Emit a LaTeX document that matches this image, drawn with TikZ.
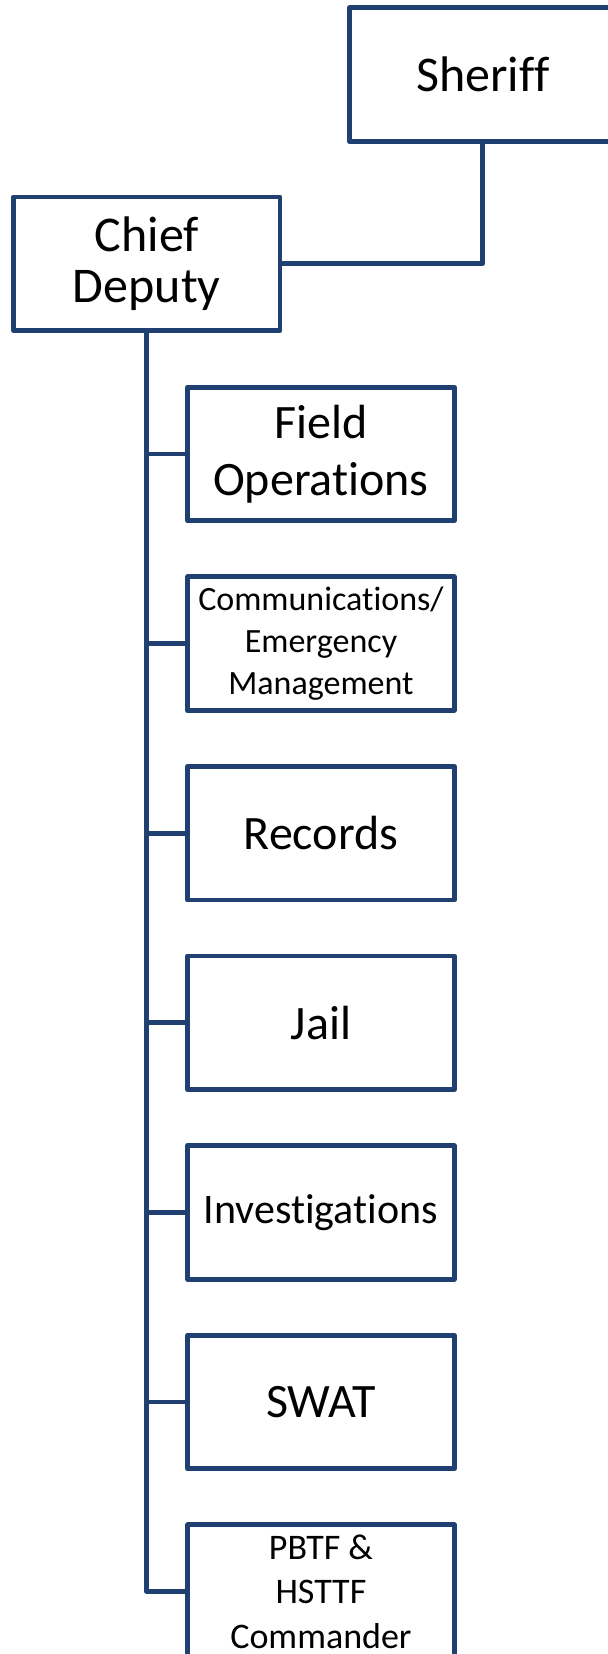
\documentclass[tikz,border=0pt]{standalone}
\usepackage{fontspec}
\setmainfont[Ligatures=NoCommon]{Carlito}
\definecolor{orgblue}{RGB}{31,64,112}
\newcommand{\fsz}[2]{\fontsize{#1}{#2}\selectfont}
\begin{document}
\begin{tikzpicture}[x=0.5pt,y=-0.5pt,
  unit/.style={draw=orgblue, line width=2.4pt, line join=round,
    minimum width=133.25pt, minimum height=66.75pt, inner sep=0pt,
    align=center, fill=white, text=black},
  link/.style={draw=orgblue, line width=2.4pt, line join=round}]
\useasboundingbox (0,0) rectangle (608,1654);

% top of the chain of command
\node[unit, font=\fsz{25pt}{30pt}] (sheriff) at (482.75,74.6) {Sheriff};
\node[unit, font=\fsz{25pt}{25.5pt}] (chief) at (146.75,263.75) {\rule{0pt}{5pt}Chief\\Deputy};

% divisions reporting to the chief deputy
\node[unit, font=\fsz{24pt}{28.8pt}] (field) at (320.95,454) {Field\\Operations};
\node[unit, font=\fsz{17pt}{21.1pt}] (comm) at (320.95,643.6) {\rule{0pt}{4pt}Communications/\\Emergency\\Management};
\node[unit, font=\fsz{24pt}{28.8pt}] (records) at (320.95,833.2) {Records};
\node[unit, font=\fsz{24pt}{28.8pt}] (jail) at (320.95,1022.8) {Jail};
\node[unit, font=\fsz{21pt}{25pt}] (invest) at (320.95,1212.4) {Investigations};
\node[unit, font=\fsz{24pt}{28.8pt}] (swat) at (320.95,1402) {SWAT};
\node[unit, font=\fsz{18pt}{22.3pt}] (pbtf) at (320.95,1591.6) {PBTF \&\\HSTTF\\Commander};

% connectors
\draw[link] (sheriff.south) |- (chief.east);
\draw[link] (chief.south) |- (pbtf.west);
\foreach \c in {field,comm,records,jail,invest,swat}
  \draw[link] (chief.south |- \c.west) -- (\c.west);
\end{tikzpicture}
\end{document}
